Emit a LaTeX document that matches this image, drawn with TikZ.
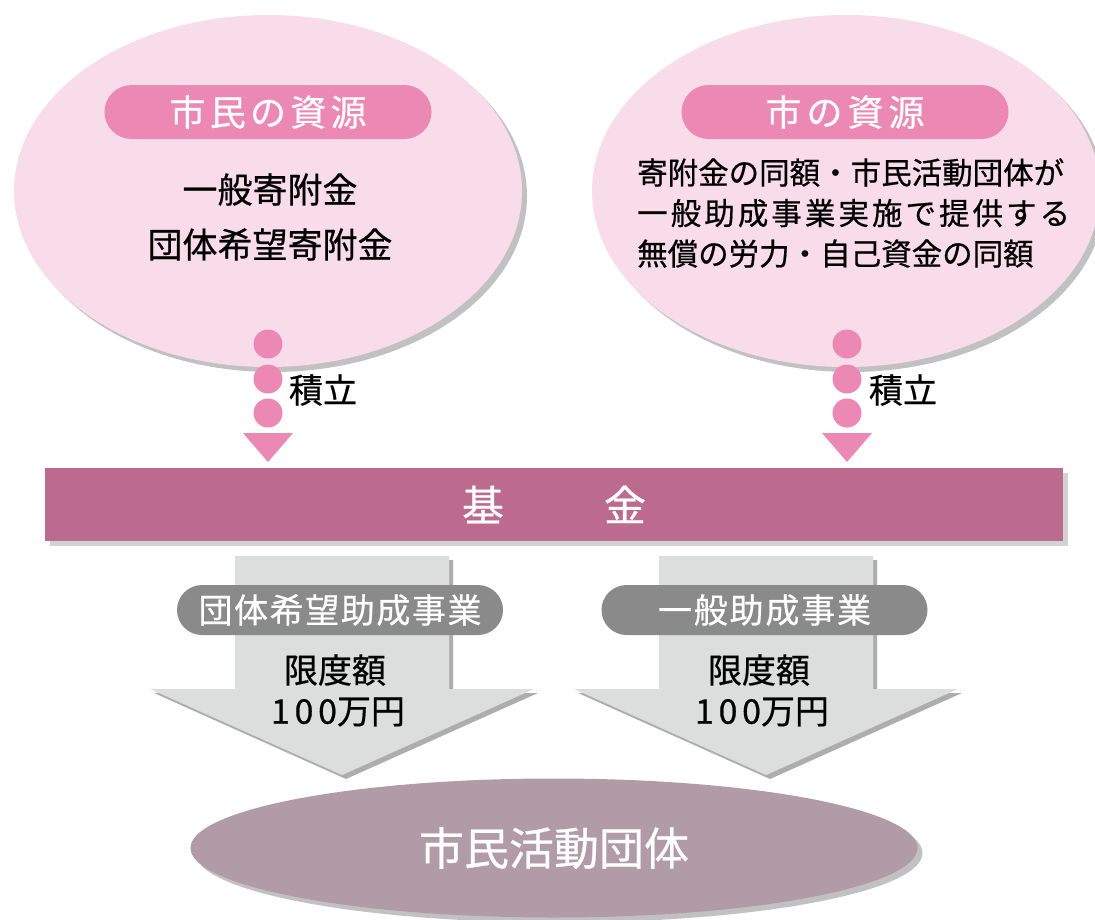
\documentclass[tikz,border=0pt]{standalone}
\usepackage{fontspec}
\setmainfont{Noto Sans CJK JP}[FakeBold=0.6]
\usetikzlibrary{shapes.geometric,shadows}
\definecolor{pinkbg}{HTML}{F9DCE9}
\definecolor{pinkdot}{HTML}{EC88B4}
\definecolor{fundc}{HTML}{BC6A8E}
\definecolor{arrowgray}{HTML}{DCDDDD}
\definecolor{pillgray}{HTML}{8A8A8A}
\definecolor{orgc}{HTML}{B09BA6}
\long\def\mygobble#1{}
\def\spreadA#1#2{#1\ifx\relax#2\expandafter\mygobble\else\hfill\expandafter\spreadA\fi#2}
\newcommand\spreadto[2]{\hbox to #1{\spreadA#2\relax}}
\newcommand\fs[1]{\fontsize{#1pt}{#1pt}\selectfont}
\tikzset{
  softshadow/.style={drop shadow={shadow xshift=5pt, shadow yshift=-5pt, opacity=0.3, fill=black!80}},
  srcellipse/.style={ellipse, fill=pinkbg, minimum width=508pt, minimum height=352pt, inner sep=0pt, softshadow},
  srcpill/.style={rectangle, rounded corners=27pt, fill=pinkdot, minimum width=327pt, minimum height=54pt, inner sep=0pt, text=white, font=\fs{36}},
  pdot/.style={circle, fill=pinkdot, minimum size=29pt, inner sep=0pt},
  bodytext/.style={text=black, inner sep=0pt},
  fundbar/.style={rectangle, fill=fundc, minimum width=1018pt, minimum height=73pt, inner sep=0pt, text=white, font=\fs{42}, drop shadow={shadow xshift=5pt, shadow yshift=-5pt, opacity=0.22, fill=black!80}},
  bigarrow/.style={fill=arrowgray, drop shadow={shadow xshift=4pt, shadow yshift=-4pt, opacity=0.4, fill=black!80}},
  graypill/.style={rectangle, rounded corners=25pt, fill=pillgray, minimum width=326pt, minimum height=50pt, inner sep=0pt, text=white, font=\fs{34}},
  orgellipse/.style={ellipse, fill=orgc, minimum width=727pt, minimum height=139pt, inner sep=0pt, text=white, font=\fs{45}, softshadow}
}
\begin{document}
\begin{tikzpicture}[x=1pt,y=-1pt]
\useasboundingbox (0,0) rectangle (1095,919);
% source ellipses
\node[srcellipse] (citizen) at (268,191) {};
\node[srcellipse] (city) at (846,191) {};
\node[srcpill] (citizenT) at (268,112) {\spreadto{197pt}{市民の資源}};
\node[srcpill] (cityT) at (845,112) {\spreadto{159pt}{市の資源}};
\node[bodytext, align=center, font=\fontsize{35pt}{55pt}\selectfont] (citizenB) at (270,217) {一般寄附金\\団体希望寄附金};
\node[bodytext, align=left, anchor=west, font=\fontsize{30.5pt}{40.5pt}\selectfont] (cityB) at (637,213)
  {寄附金の同額・市民活動団体が\\\spreadto{433pt}{一般助成事業実施で提供する}\\無償の労力・自己資金の同額};
% dot chains
\foreach \n/\x in {L/268,R/847}{
  \node[pdot] (\n1) at (\x,344) {};
  \node[pdot] (\n2) at (\x,379) {};
  \node[pdot] (\n3) at (\x,413) {};
  \coordinate (\n tip) at (\x,462);
  \fill[pinkdot] (\n tip) -- ++(-25,-29) -- ++(50,0) -- cycle;
}
\node[bodytext, font=\fs{34}] (accL) at (323,390) {積立};
\node[bodytext, font=\fs{34}] (accR) at (903,390) {積立};
% fund
\node[fundbar] (fund) at (554,504.5) {基\hspace{100pt}金};
% arrows
\coordinate (A1) at (342,556);
\coordinate (A2) at (766,556);
\foreach \a in {A1,A2}{
  \path[bigarrow] (\a) ++(-107,0) -- ++(0,133) -- ++(-85,0) -- ++(192,86) -- ++(192,-86) -- ++(-85,0) -- ++(0,-133) -- cycle;
}
\node[graypill] (g1) at (340,610) {\spreadto{283pt}{団体希望助成事業}};
\node[graypill] (g2) at (764.5,610) {\spreadto{213pt}{一般助成事業}};
\node[bodytext, font=\fs{34}] (lim1) at (335,670) {限度額};
\node[bodytext, font=\fs{34}] (lim2) at (759,670) {限度額};
\node[bodytext, font=\fs{34}] (amt1) at (338,712) {\spreadto{66pt}{100}万円};
\node[bodytext, font=\fs{34}] (amt2) at (762,712) {\spreadto{66pt}{100}万円};
% organisations
\node[orgellipse] (org) at (554,848) {市民活動団体};
\end{tikzpicture}
\end{document}
